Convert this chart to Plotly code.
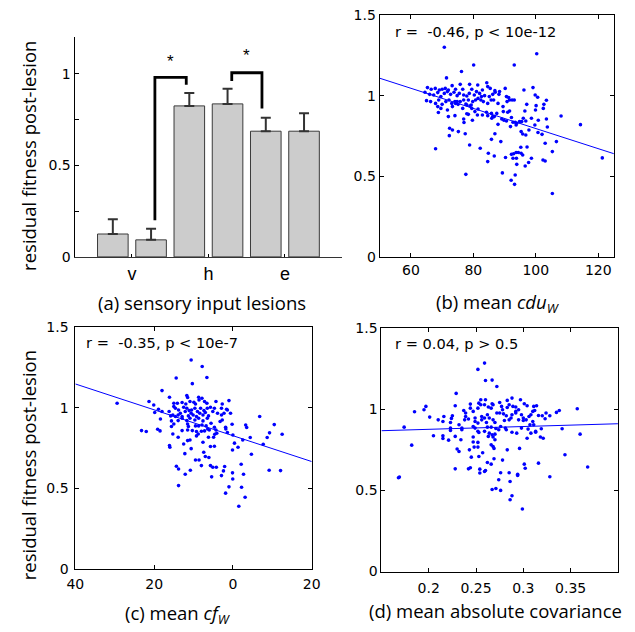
import plotly.graph_objects as go

W, H = 635, 632          # picture size
VOFF, VSCALE = 8, 0.975  # vertical placement of the page in the photograph

# ---------------- data ----------------
# (a) sensory input lesions
bar_pos = [1, 2, 3, 4, 5, 6]
bar_mean = [0.125, 0.093, 0.824, 0.835, 0.686, 0.686]
bar_err = [0.081, 0.061, 0.071, 0.083, 0.073, 0.098]
group_ticks = [1.5, 3.5, 5.5]
group_labels = ["v", "h", "e"]
# significance brackets: (x_left, x_right, y_left_start, y_top, y_right_end)
brackets = [(2.1, 2.92, 0.20, 0.98, 0.94), (4.11, 4.9, 0.96, 1.005, 0.81)]
star_y = [1.005, 1.035]

# (b) mean cdu_W
b_x = [70.7,100.3,80.1,93.1,76.2,71.4,
 65.3,66.5,67.8,69.1,70.0,71.0,72.0,73.2,74.3,75.8,76.6,78.8,79.5,81.4,82.9,84.3,84.6,85.4,86.9,88.4,90.2,96.2,99.1,
 64.5,66.0,67.3,68.6,69.6,70.7,71.7,72.7,73.8,74.8,75.5,76.9,77.9,78.7,80.3,81.0,82.0,82.6,83.6,85.1,86.2,87.0,88.2,90.6,91.3,99.8,100.6,
 65.0,66.3,67.9,68.9,70.0,71.2,72.2,73.1,74.1,75.1,75.8,76.9,77.6,78.4,79.3,79.8,80.7,81.5,82.4,83.2,84.6,85.7,86.5,87.9,89.5,90.8,91.6,92.4,93.1,97.1,100.1,102.6,103.4,74.3,74.8,
 68.6,69.6,71.7,73.3,76.6,77.9,78.9,79.5,80.5,81.5,82.9,84.2,85.8,86.2,87.5,89.6,91.0,91.6,96.5,99.9,102.4,68.8,72.0,74.1,77.9,78.4,81.3,
 76.9,77.0,79.7,84.6,85.9,86.7,89.1,89.8,90.6,92.2,92.7,93.4,93.9,94.8,96.0,96.8,98.6,100.8,103.4,108.1,95.5,
 87.9,91.9,93.7,99.7,103.7,114.3,72.4,73.3,75.2,77.4,86.9,95.3,95.8,96.8,97.8,100.7,102.0,
 72.3,85.8,88.8,78.8,82.2,67.9,95.2,97.2,103.0,106.6,
 84.8,86.7,90.3,92.2,92.9,93.7,94.4,95.3,95.8,92.7,93.8,98.6,102.3,103.0,105.3,84.6,93.9,97.7,96.6,121.3,
 77.6,89.3,93.4,92.1,93.2,105.3]
b_y = [1.30,1.26,1.19,1.19,1.15,1.11,
 1.05,1.04,1.045,1.035,1.04,1.045,1.035,1.062,1.04,1.07,1.04,1.07,1.04,1.066,1.035,1.08,1.056,1.045,1.031,1.025,1.045,1.035,1.05,
 1.021,1.008,1.004,1.019,0.994,1.014,1.025,1.008,1.021,1.0,1.014,1.004,0.998,1.014,1.004,1.025,1.014,0.994,1.0,0.994,1.008,1.021,1.008,0.994,0.988,1.004,0.99,
 0.969,0.963,0.952,0.973,0.946,0.963,0.973,0.952,0.963,0.946,0.963,0.973,0.948,0.973,0.942,0.963,0.973,0.983,0.973,0.963,0.952,0.973,0.973,0.952,0.932,0.963,0.973,0.973,0.973,0.946,0.938,0.946,0.971,0.952,0.963,
 0.932,0.921,0.911,0.932,0.921,0.942,0.936,0.921,0.901,0.917,0.880,0.897,0.890,0.870,0.890,0.901,0.897,0.905,0.905,0.911,0.921,0.895,0.870,0.876,0.888,0.884,0.880,
 0.855,0.833,0.847,0.876,0.860,0.870,0.855,0.847,0.843,0.864,0.835,0.835,0.829,0.839,0.860,0.843,0.860,0.847,0.855,0.874,0.839,
 0.822,0.808,0.818,0.818,0.806,0.820,0.798,0.787,0.777,0.764,0.764,0.777,0.762,0.756,0.787,0.771,0.760,
 0.752,0.729,0.715,0.694,0.674,0.671,0.680,0.682,0.705,0.715,
 0.643,0.626,0.616,0.636,0.640,0.647,0.647,0.643,0.632,0.612,0.612,0.612,0.601,0.595,0.653,0.591,0.574,0.585,0.564,0.614,
 0.512,0.521,0.508,0.475,0.450,0.393]
b_fit_x = [50, 125]
b_fit_y = [1.108, 0.640]
b_text = "r =  -0.46, p < 10e-12"

# (c) mean cf_W
c_x = [-10.6,-7.8,-6.6,-14.4,-10.3,-18.0,-29.4,
 -16.1,-11.7,-11.5,-8.7,-7.85,-1.0,-21.3,-20.1,-15.0,-14.1,-12.9,-11.95,-10.9,-9.9,-9.5,-8.6,-7.2,-6.6,-4.3,-2.7,
 -18.9,-19.85,-18.0,-16.2,-15.0,-14.6,-13.8,-12.5,-11.7,-11.1,-10.5,-9.65,-9.0,-8.2,-7.35,-6.5,-5.7,-4.7,-3.9,-2.9,-1.6,-0.6,
 -15.8,-15.25,-14.6,-13.9,-13.35,-12.9,-12.1,-11.3,-10.6,-10.1,-9.25,-8.4,-7.6,-7.0,-6.2,-5.1,-2.9,-2.26,-1.4,
 -18.4,-15.6,-13.9,-12.9,-11.7,-10.9,-9.65,-8.7,-7.6,-6.5,-5.55,-3.25,-2.7,
 -15.6,-15.0,-11.5,-11.3,-9.5,-8.7,-7.85,-6.8,-6.4,-4.7,-4.3,-1.85,-0.2,3.25,3.5,6.8,
 -23.2,-22.0,-19.1,-18.5,-15.25,-12.9,-11.5,-10.3,-9.25,-8.0,-7.2,-6.0,-4.6,-4.1,-1.8,-1.4,0.0,
 -4.9,-7.6,-6.2,-13.9,-12.5,-10.9,-9.25,-8.8,-11.5,-16.1,-16.0,-5.7,-4.7,0.4,1.3,-0.1,2.5,4.4,7.7,8.7,9.3,10.5,12.5,
 -10.6,-12.2,-7.4,-7.0,-6.1,-8.6,-9.5,-8.0,4.7,-14.35,-13.8,-10.8,-5.7,-5.1,-4.2,-2.1,-2.4,-2.9,-12.1,-5.4,-0.1,2.7,2.1,-0.04,9.2,12.1,
 -13.8,-1.0,-1.85,2.2,3.1,1.5]
c_y = [1.297,1.256,1.188,1.185,1.150,1.107,1.028,
 1.066,1.076,1.064,1.066,1.059,1.045,1.039,1.018,1.028,1.028,1.033,1.024,1.039,1.035,1.024,1.049,1.039,1.028,1.039,1.024,
 0.991,0.971,0.977,0.977,1.008,0.997,0.987,1.004,0.997,0.983,0.987,0.997,0.977,0.997,0.983,0.997,1.004,0.997,0.966,0.997,0.991,0.966,
 0.950,0.956,0.946,0.956,0.966,0.946,0.977,0.950,0.966,0.956,0.946,0.966,0.956,0.971,0.950,0.977,0.956,0.966,0.987,
 0.931,0.919,0.921,0.935,0.921,0.935,0.925,0.935,0.919,0.935,0.904,0.915,0.925,
 0.884,0.900,0.900,0.884,0.888,0.888,0.894,0.888,0.869,0.880,0.863,0.880,0.898,0.894,0.878,0.946,
 0.859,0.853,0.867,0.857,0.838,0.859,0.863,0.859,0.853,0.855,0.857,0.863,0.836,0.842,0.869,0.847,0.832,
 0.818,0.787,0.818,0.818,0.776,0.801,0.826,0.838,0.797,0.766,0.756,0.760,0.762,0.781,0.756,0.739,0.801,0.816,0.774,0.816,0.845,0.896,0.836,
 0.747,0.716,0.725,0.698,0.692,0.677,0.677,0.642,0.712,0.638,0.621,0.613,0.642,0.632,0.632,0.636,0.609,0.580,0.588,0.572,0.597,0.588,0.650,0.559,0.613,0.611,
 0.518,0.510,0.471,0.508,0.446,0.390]
c_fit_x = [-40, 20]
c_fit_y = [1.148, 0.667]
c_tickvals = [-40, -20, 0, 20]
c_ticktext = ["40", "20", "0", "20"]
c_text = "r =  -0.35, p < 10e-7"

# (d) mean absolute covariance
d_x = [0.259,0.252,0.260,0.267,0.272,0.229,
 0.197,0.195,0.185,0.201,0.210,0.215,0.216,0.223,0.224,0.225,0.228,0.237,0.239,0.244,0.244,0.239,0.242,0.238,0.247,0.249,0.252,0.253,0.255,0.255,0.259,0.260,0.263,0.267,0.266,0.268,0.272,0.275,0.277,0.278,0.279,0.283,0.283,0.285,0.288,0.289,0.292,0.292,0.295,0.297,0.301,0.304,0.311,0.314,0.310,0.312,
 0.256,0.259,0.262,0.264,0.268,0.275,0.282,0.285,0.288,0.292,0.295,0.298,0.300,0.303,0.306,0.308,0.310,0.316,0.320,0.324,0.323,0.328,0.335,0.338,0.357,
 0.249,0.252,0.256,0.261,0.270,0.280,0.287,0.300,0.307,0.311,
 0.174,0.223,0.223,0.232,0.235,0.235,0.249,0.247,0.262,0.266,0.271,0.276,0.281,0.282,0.293,0.298,0.305,0.308,0.313,0.319,0.341,
 0.252,0.253,0.259,0.264,0.267,0.270,0.263,0.268,0.274,0.288,0.304,0.313,0.318,0.321,0.360,
 0.205,0.215,0.215,0.221,0.228,0.234,0.247,0.247,0.252,0.248,0.252,0.266,0.270,0.268,0.269,0.283,0.296,
 0.230,0.232,0.243,0.245,0.253,0.257,0.182,0.344,
 0.228,0.242,0.244,0.254,0.254,0.259,0.260,0.262,0.266,0.269,0.278,0.301,0.302,0.316,0.368,
 0.276,0.285,0.294,0.294,0.328,0.169,0.168,0.274,0.286,
 0.267,0.271,0.276,0.288,0.286,0.299]
d_y = [1.285,1.246,1.178,1.180,1.141,1.098,
 1.018,0.997,0.985,0.952,0.935,0.925,0.956,0.919,0.944,0.960,1.022,0.993,0.977,1.032,1.007,0.956,0.940,0.935,0.987,0.946,1.007,1.038,1.059,1.028,1.028,1.059,1.014,1.034,1.007,1.028,0.977,1.042,1.018,0.997,0.972,1.055,1.011,1.028,1.069,1.018,1.014,0.987,0.997,1.059,1.034,1.022,1.018,1.022,0.987,0.993,
 0.956,0.946,0.966,0.946,0.935,0.977,0.960,0.935,0.966,0.977,0.935,0.966,0.946,0.935,0.956,0.966,0.925,0.962,0.960,0.977,0.942,0.960,0.981,0.993,1.003,
 0.925,0.915,0.935,0.919,0.919,0.931,0.946,0.931,0.905,0.905,
 0.890,0.884,0.870,0.905,0.884,0.874,0.884,0.894,0.890,0.890,0.882,0.894,0.884,0.874,0.853,0.884,0.878,0.853,0.864,0.880,0.880,
 0.864,0.857,0.864,0.853,0.843,0.847,0.833,0.829,0.874,0.859,0.822,0.859,0.829,0.822,0.847,
 0.837,0.837,0.820,0.810,0.833,0.812,0.829,0.798,0.796,0.767,0.767,0.781,0.812,0.771,0.759,0.750,0.759,
 0.755,0.740,0.750,0.705,0.709,0.732,0.779,0.720,
 0.633,0.633,0.640,0.631,0.607,0.617,0.623,0.672,0.662,0.695,0.687,0.662,0.637,0.668,0.644,
 0.609,0.609,0.592,0.600,0.584,0.582,0.578,0.566,0.555,
 0.506,0.512,0.500,0.467,0.442,0.385]
d_fit_x = [0.15, 0.40]
d_fit_y = [0.868, 0.911]
d_tickvals = [0.2, 0.25, 0.3, 0.35]
d_ticktext = ["0.2", "0.25", "0.3", "0.35"]
d_text = "r = 0.04, p > 0.5"

y_label = "residual fitness post-lesion"
captions = ["(a) sensory input lesions",
            "(b) mean <i>cdu</i><sub><i>W</i></sub>",
            "(c) mean <i>cf</i><sub><i>W</i></sub>",
            "(d) mean absolute covariance"]

# ---------------- layout helpers (picture pixel -> paper fraction) ----------------
def px(x):
    return x / W

def py(y):
    return 1 - ((y - VOFF) / VSCALE) / H

TICKFONT = dict(family="DejaVu Sans, sans-serif", size=14, color="black")
CAPFONT = dict(family="Open Sans, sans-serif", size=18.5, color="black")
BLUE = "#0000ff"

fig = go.Figure()

# (a) bars
fig.add_trace(go.Bar(
    x=bar_pos, y=bar_mean, width=0.8,
    marker=dict(color="#cccccc", line=dict(color="#3a3a3a", width=1)),
    error_y=dict(type="data", symmetric=False, array=bar_err,
                 arrayminus=[0] * len(bar_err), color="#333333",
                 thickness=2, width=5),
    xaxis="x", yaxis="y", hoverinfo="skip"))

# scatter panels
for xs, ys, fx, fy, ax in [(b_x, b_y, b_fit_x, b_fit_y, "2"),
                           (c_x, c_y, c_fit_x, c_fit_y, "3"),
                           (d_x, d_y, d_fit_x, d_fit_y, "4")]:
    fig.add_trace(go.Scatter(x=fx, y=fy, mode="lines",
                             line=dict(color=BLUE, width=1),
                             xaxis="x" + ax, yaxis="y" + ax))
    fig.add_trace(go.Scatter(x=xs, y=ys, mode="markers",
                             marker=dict(color=BLUE, size=3.6),
                             xaxis="x" + ax, yaxis="y" + ax))

common = dict(showgrid=False, zeroline=False, showline=True, linecolor="black",
              linewidth=1, ticks="inside", ticklen=4, tickcolor="black",
              tickfont=TICKFONT)

fig.update_layout(
    width=W, height=H, margin=dict(l=0, r=0, t=0, b=0),
    paper_bgcolor="white", plot_bgcolor="white", showlegend=False,
    xaxis=dict(domain=[px(67.5), px(343)], range=[0, 7], anchor="y",
               tickvals=group_ticks, ticktext=group_labels,
               **{**common, "tickfont": dict(family="Liberation Sans, Arial", size=18, color="black"),
                  "ticklen": 3, "linecolor": "#333333"}),
    yaxis=dict(domain=[py(257), py(37)], range=[0, 1.2], anchor="x",
               tickvals=[0, 0.5, 1], ticktext=["0", "0.5", "1"],
               minor=dict(tickvals=[0.25, 0.75], ticks="inside", ticklen=4,
                          tickcolor="black", showgrid=False),
               **common),
    xaxis2=dict(domain=[px(381.5), px(622.5)], range=[50, 125], anchor="y2",
                tickvals=[60, 80, 100, 120], mirror="ticks", **common),
    yaxis2=dict(domain=[py(257), py(15)], range=[0, 1.5], anchor="x2",
                tickvals=[0, 0.5, 1, 1.5], ticktext=["0", "0.5", "1", "1.5"],
                mirror="ticks", **common),
    xaxis3=dict(domain=[px(68.3), px(311.5)], range=[-40, 20], anchor="y3",
                tickvals=c_tickvals, ticktext=c_ticktext, mirror="ticks",
                ticklabelstandoff=2, **common),
    yaxis3=dict(domain=[py(569.3), py(327.3)], range=[0, 1.5], anchor="x3",
                tickvals=[0, 0.5, 1, 1.5], ticktext=["0", "0.5", "1", "1.5"],
                mirror="ticks", ticklabelstandoff=3, **common),
    xaxis4=dict(domain=[px(383.3), px(626.7)], range=[0.15, 0.4], anchor="y4",
                tickvals=d_tickvals, ticktext=d_ticktext, mirror="ticks",
                ticklabelstandoff=4, **common),
    yaxis4=dict(domain=[py(571.7), py(328.3)], range=[0, 1.5], anchor="x4",
                tickvals=[0, 0.5, 1, 1.5], ticktext=["0", "0.5", "1", "1.5"],
                mirror="ticks", **common),
)

# significance brackets
for (x1, x2, y1, yt, y2), sy in zip(brackets, star_y):
    fig.add_shape(type="path", xref="x", yref="y",
                  path=f"M {x1},{y1} L {x1},{yt} L {x2},{yt} L {x2},{y2}",
                  line=dict(color="black", width=2.8))
    fig.add_annotation(x=(x1 + x2) / 2, y=sy, xref="x", yref="y", text="*",
                       showarrow=False, yanchor="bottom",
                       font=dict(family="Liberation Sans, Arial", size=17, color="black"))

# r/p texts
RFONT = dict(family="DejaVu Sans, sans-serif", size=14.6, color="black")
for txt, x0, y0 in [(b_text, 395, 32), (c_text, 77, 343), (d_text, 395, 344)]:
    fig.add_annotation(x=px(x0), y=py(y0), xref="paper", yref="paper", text=txt,
                       showarrow=False, xanchor="left", yanchor="middle", font=RFONT)

# y-axis titles
for yc in [155.5, 465]:
    fig.add_annotation(x=px(20), y=py(yc), xref="paper", yref="paper", text=y_label,
                       textangle=-90, showarrow=False, xanchor="center",
                       yanchor="middle", font=CAPFONT)

# captions
for cap, cx, cy in zip(captions, [198.5, 503.5, 174, 501], [303, 303, 614, 611]):
    fig.add_annotation(x=px(cx), y=py(cy), xref="paper", yref="paper", text=cap,
                       showarrow=False, xanchor="center", yanchor="middle", font=CAPFONT)

fig.write_html("out.html", config={"displayModeBar": False},
               post_script="document.body.style.margin='0';document.body.style.padding='0';")
